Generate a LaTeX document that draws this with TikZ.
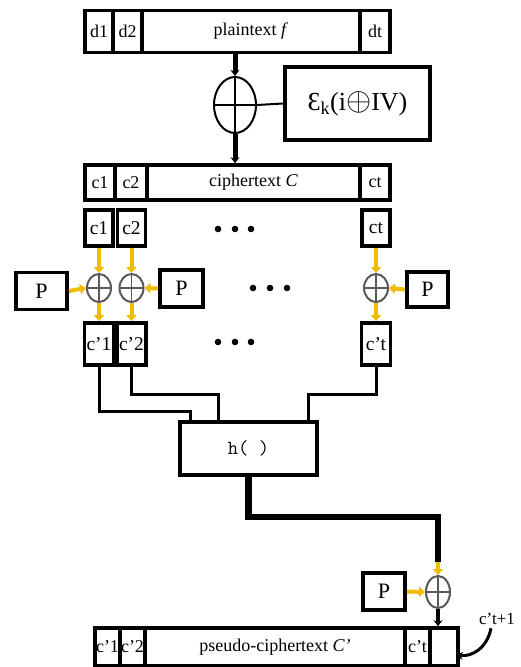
\documentclass[tikz,border=0pt]{standalone}
\usepackage{amsmath, amssymb}
\usepackage{fontspec}
\setmainfont{Liberation Serif}
\usepackage{tikz}
\usetikzlibrary{positioning, shapes.geometric, arrows.meta}
\usepackage{xcolor}
\definecolor{xoryellow}{RGB}{240,188,0}

\tikzset{
    cell/.style={draw, line width=3.6pt, inner sep=0pt, font=\fontsize{18}{20}\selectfont},
    blk/.style={draw, line width=3.8pt, inner sep=0pt, font=\fontsize{19.5}{21}\selectfont},
    xorop/.style={ellipse, draw=#1, line width=2pt, inner sep=0pt, fill=white,
        path picture={\draw[#1, line width=1.6pt]
            (path picture bounding box.north) -- (path picture bounding box.south)
            (path picture bounding box.west) -- (path picture bounding box.east);}},
    xorop/.default=gray!70!black,
    yarr/.style={draw=xoryellow, line width=4pt, -{Triangle[length=6pt, width=10pt]}},
    wire/.style={line width=3pt},
}

\begin{document}
\begin{tikzpicture}[x=1pt, y=-1pt]
    \useasboundingbox (0,0) rectangle (521,667);

    % Plaintext blocks
    \node[cell, minimum width=28pt, minimum height=42pt] (d1) at (99,31.5) {d1};
    \node[cell, minimum width=29pt, minimum height=42pt] (d2) at (127.5,31.5) {d2};
    \node[cell, minimum width=218pt, minimum height=42pt] (plain) at (251,31.5) {plaintext \textit{f}};
    \node[cell, minimum width=30pt, minimum height=42pt] (dt) at (375,31.5) {dt};

    % Encryption of the counter and big xor
    \node[xorop=black, minimum width=42pt, minimum height=56pt] (xorbig) at (235,105) {};
    \node[blk, minimum width=145pt, minimum height=73pt, font=\fontsize{26}{28}\selectfont] (ek) at (357.5,103.5)
        {Ɛ\textsubscript{k}(i\scalebox{1.3}{$\oplus$}IV)};
    \draw[line width=2pt] (xorbig.east) -- (ek.west);

    % Ciphertext blocks
    \node[cell, minimum width=30pt, minimum height=35pt] (c1) at (100,182.5) {c1};
    \node[cell, minimum width=32pt, minimum height=35pt] (c2) at (131,182.5) {c2};
    \node[cell, minimum width=213pt, minimum height=35pt] (cipher) at (253.5,182.5) {ciphertext \textit{C}};
    \node[cell, minimum width=30pt, minimum height=35pt] (ct) at (375,182.5) {ct};

    \draw[line width=5pt, -{Stealth[length=6pt, width=9pt]}] (xorbig |- plain.south) -- (xorbig.north);
    \draw[line width=5pt, -{Stealth[length=6pt, width=9pt]}] (xorbig.south) -- (xorbig |- cipher.north);

    % Per-block xor with P
    \foreach \n/\x/\lab/\olab in {1/99/c1/c'1, 2/131.5/c2/c'2, t/376/ct/c't} {
        \node[blk, minimum width=28pt, minimum height=36pt] (in\n) at (\x,228) {\lab};
        \node[xorop, minimum width=24pt, minimum height=28pt] (xor\n) at (\x,288) {};
        \node[blk, minimum width=29pt, minimum height=42pt] (out\n) at (\x,344) {\olab};
        \draw[yarr] (in\n.south) -- (xor\n.north);
        \draw[yarr] (xor\n.south) -- (out\n.north);
    }

    \node[blk, minimum width=51pt, minimum height=37pt, font=\fontsize{22}{24}\selectfont] (p1) at (41.5,291) {P};
    \node[blk, minimum width=43pt, minimum height=37pt, font=\fontsize{22}{24}\selectfont] (p2) at (181.5,288.5) {P};
    \node[blk, minimum width=41pt, minimum height=35pt, font=\fontsize{22}{24}\selectfont] (pt) at (427.5,289.5) {P};
    \draw[yarr] (p1.east) -- (xor1.west);
    \draw[yarr] (p2.west) -- (xor2.east);
    \draw[yarr] (pt.west) -- (xort.east);

    % Dots
    \foreach \x/\y in {218/229, 235/229, 251/229, 253/288, 270/288, 287/288, 218/342, 235/342, 251/342} {
        \fill (\x,\y) circle (3.3pt);
    }

    % Hash
    \node[blk, minimum width=137pt, minimum height=53pt, font=\ttfamily\fontsize{20}{22}\selectfont] (h) at (248.5,448.5) {h( )};
    \draw[wire] (out1.south) -- ++(0,45) -| ([xshift=-58.5pt]h.north);
    \draw[wire] (out2.south) -- ++(0,28) -| ([xshift=-30.5pt]h.north);
    \draw[wire] (outt.south) -- ++(0,28) -| ([xshift=59.5pt]h.north);

    % Last xor with P
    \node[xorop, minimum width=24pt, minimum height=32pt] (xorf) at (438,592) {};
    \node[blk, minimum width=42pt, minimum height=37pt, font=\fontsize{22}{24}\selectfont] (pf) at (384,591.5) {P};
    \coordinate (fin) at ([yshift=13pt]xorf.north);
    \draw[line width=6.5pt] (h.south) -- ++(0,40) -| (fin);
    \draw[yarr] (fin) -- (xorf.north);
    \draw[yarr] (pf.east) -- (xorf.west);

    % Pseudo-ciphertext blocks
    \node[cell, minimum width=25pt, minimum height=38pt] (cp1) at (107.5,647) {c'1};
    \node[cell, minimum width=25pt, minimum height=38pt] (cp2) at (132.5,647) {c'2};
    \node[cell, minimum width=260pt, minimum height=38pt] (pseudo) at (275,647) {pseudo-ciphertext \textit{C'}};
    \node[cell, minimum width=25pt, minimum height=38pt] (cpt) at (417.5,647) {c't};
    \node[cell, minimum width=28pt, minimum height=38pt] (cpn) at (444,647) {};
    \draw[line width=4pt, -{Stealth[length=6pt, width=9pt]}] (xorf.south) -- (xorf.south |- cpn.north);

    % Label
    \node[font=\fontsize{17}{19}\selectfont] (nextlab) at (497,619) {c't+1};
    \draw[line width=3pt, -{Stealth[length=7pt, width=8pt]}] ([xshift=-6pt]nextlab.south)
        .. controls +(-4,20) and +(16,2) .. ([xshift=-4pt, yshift=-8pt]cpn.east);
\end{tikzpicture}
\end{document}
